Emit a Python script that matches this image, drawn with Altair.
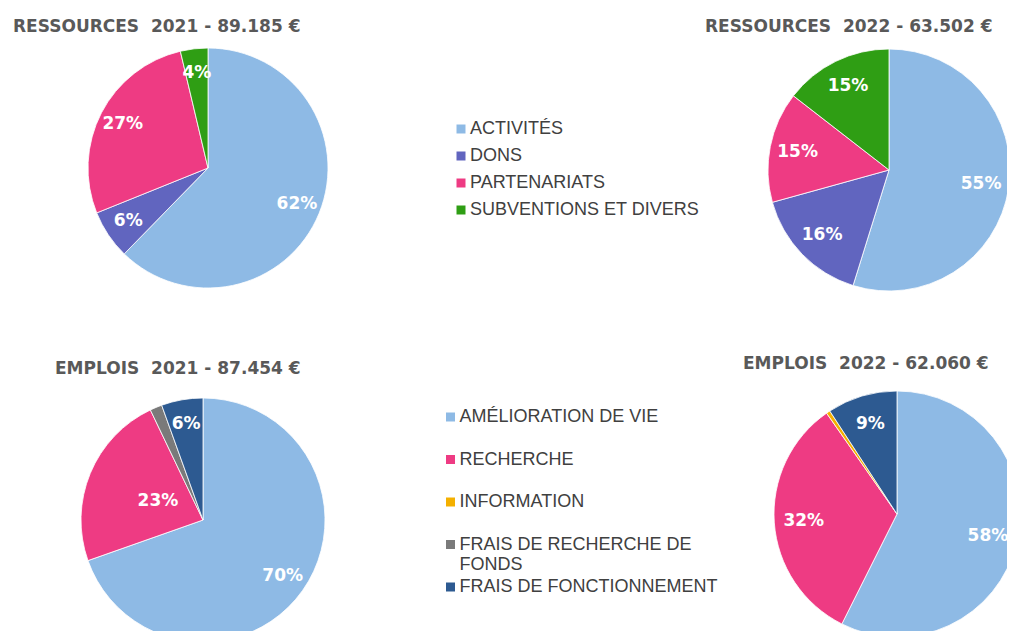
import altair as alt
import pandas as pd

# ---------------- data ----------------
res_cats = ["ACTIVITÉS", "DONS", "PARTENARIATS", "SUBVENTIONS ET DIVERS"]
res_colors = ["#8EBAE5", "#6165BF", "#EE3B83", "#2F9E14"]
res_2021 = [62.3, 6.6, 27.4, 3.7]
res_2021_labels = ["62%", "6%", "27%", "4%"]
res_2022 = [54.8, 15.9, 14.8, 14.5]
res_2022_labels = ["55%", "16%", "15%", "15%"]

emp_cats = ["AMÉLIORATION DE VIE", "RECHERCHE", "INFORMATION",
            "FRAIS DE RECHERCHE DE FONDS", "FRAIS DE FONCTIONNEMENT"]
emp_colors = ["#8EBAE5", "#EE3B83", "#F4B000", "#7A7A7A", "#2D5A91"]
emp_2021 = [69.6, 23.3, 0.0, 1.6, 5.5]
emp_2021_labels = ["70%", "23%", "", "", "6%"]
emp_2022 = [57.4, 32.9, 0.5, 0.0, 9.2]
emp_2022_labels = ["58%", "32%", "", "", "9%"]

titles = ["RESSOURCES\u00a0 2021 - 89.185 €", "RESSOURCES\u00a0 2022 - 63.502 €",
          "EMPLOIS\u00a0 2021 - 87.454 €", "EMPLOIS\u00a0 2022 - 62.060 €"]

BOLD = "DejaVu Sans"
LEG_FONT = "Liberation Sans"


def make_legend(lx, ly, row_pad, label_expr=None):
    kw = dict(orient="none", legendX=lx, legendY=ly, title=None,
              symbolType="square", symbolSize=81, symbolStrokeWidth=0,
              labelFont=LEG_FONT, labelFontSize=18, labelColor="#404040",
              rowPadding=row_pad, labelOffset=0, labelLimit=400)
    if label_expr:
        kw["labelExpr"] = label_expr
    return alt.Legend(**kw)


def pie(cats, vals, labs, colors, cx, cy, r, legend, lab_frac=0.8, inner=()):
    df = pd.DataFrame({"cat": cats, "value": vals, "label": labs,
                       "ord": list(range(len(cats)))})
    base = alt.Chart(df).transform_filter("datum.value > 0").encode(
        theta=alt.Theta("value:Q", stack="normalize"),
        order=alt.Order("ord:Q"),
        x=alt.value(cx), y=alt.value(cy),
    )
    arc = base.mark_arc(radius=r, stroke="white", strokeWidth=0.8).encode(
        color=alt.Color("cat:N", sort=cats,
                        scale=alt.Scale(domain=cats, range=colors),
                        legend=legend)
    )
    inner_list = list(inner)
    pred = alt.FieldOneOfPredicate(field="cat", oneOf=inner_list if inner_list else ["__none__"])
    txt_out = base.mark_text(radius=r * lab_frac, font=BOLD, fontWeight="bold",
                             fontSize=17, color="white").encode(
        text=alt.condition(pred, alt.value(""), alt.Text("label:N")),
        detail="cat:N",
    )
    layers = [arc, txt_out]
    if inner_list:
        txt_in = base.mark_text(radius=r * 0.4, font=BOLD, fontWeight="bold",
                                fontSize=17, color="white").encode(
            text=alt.condition(pred, alt.Text("label:N"), alt.value("")),
            detail="cat:N",
        )
        layers.append(txt_in)
    return alt.layer(*layers)


def title_mark(t, tx, ty):
    return alt.Chart(pd.DataFrame({"t": [t]})).mark_text(
        font=BOLD, fontWeight="bold", fontSize=17, color="#595959",
        align="left", baseline="middle").encode(
        text="t:N", x=alt.value(tx), y=alt.value(ty))


res_leg = make_legend(444, 112, 9)
emp_leg = make_legend(433.5, 400, 4.5,
                      "datum.label == 'FRAIS DE RECHERCHE DE FONDS' ? "
                      "['FRAIS DE RECHERCHE DE', 'FONDS'] : "
                      "(datum.label == 'FRAIS DE FONCTIONNEMENT' ? datum.label : [datum.label, ' '])")

res_group = alt.layer(
    pie(res_cats, res_2021, res_2021_labels, res_colors, 200, 160, 120, res_leg),
    pie(res_cats, res_2022, res_2022_labels, res_colors, 881, 162, 121, res_leg,
        lab_frac=0.77),
)
emp_group = alt.layer(
    pie(emp_cats, emp_2021, emp_2021_labels, emp_colors, 195, 512, 122, emp_leg,
        inner=["RECHERCHE"]),
    pie(emp_cats, emp_2022, emp_2022_labels, emp_colors, 889, 506, 123, emp_leg,
        lab_frac=0.76),
)
title_group = alt.layer(
    title_mark(titles[0], 5, 18.5),
    title_mark(titles[1], 697, 19),
    title_mark(titles[2], 47, 361),
    title_mark(titles[3], 735, 356),
)

chart = alt.layer(res_group, emp_group, title_group).resolve_scale(
    color="independent", theta="independent"
).properties(
    width=999, height=623, padding=0,
    autosize=alt.AutoSizeParams(type="none"),
).configure_view(stroke=None)

chart.save("out.html", embed_options={"renderer": "svg", "actions": False})
